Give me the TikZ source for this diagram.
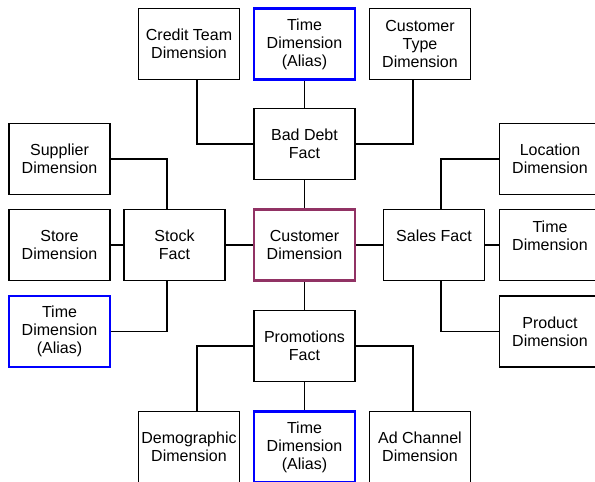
\documentclass[tikz,border=0pt]{standalone}
\usepackage{fontspec}
\setmainfont{Liberation Sans}
\usepackage{tikz}

\tikzset{
  tabla/.style={draw, line width=1.3pt, minimum width=101pt, minimum height=71pt,
    inner sep=0pt, align=center, font=\fontsize{16}{18}\selectfont},
  alias/.style={tabla, draw=blue, line width=2.6pt},
  centro/.style={tabla, draw=granate, line width=2.6pt},
  enlace/.style={line width=1.3pt}
}
\definecolor{granate}{RGB}{145,50,100}

\begin{document}
\begin{tikzpicture}[x=1pt, y=-1pt]
\useasboundingbox (0,0) rectangle (595,482);
% Tablas de dimensiones y hechos
\node[tabla] (credito) at (189,44) {Credit Team\\Dimension};
\node[alias] (tiempoA) at (304.5,44) {Time\\Dimension\\(Alias)};
\node[tabla] (tipo) at (420,44) {Customer\\Type\\Dimension};
\node[tabla] (deuda) at (304.5,144) {Bad Debt\\Fact};
\node[tabla] (proveedor) at (59.5,159) {Supplier\\Dimension};
\node[tabla] (tienda) at (59.5,245) {Store\\Dimension};
\node[alias] (tiempoI) at (59.5,331.5) {Time\\Dimension\\(Alias)};
\node[tabla] (stock) at (174.5,245) {Stock\\Fact};
\node[centro] (cliente) at (304.5,245) {Customer\\Dimension};
\node[tabla] (ventas) at (434,245) {Sales Fact\\\mbox{}};
\node[tabla] (lugar) at (550,159) {Location\\Dimension};
\node[tabla] (tiempoD) at (550,245) {Time\\Dimension\\\mbox{}};
\node[tabla] (producto) at (550,331.5) {Product\\Dimension};
\node[tabla] (promo) at (304.5,346) {Promotions\\Fact};
\node[tabla] (demo) at (189,447) {Demographic\\Dimension};
\node[alias] (tiempoB) at (304.5,447) {Time\\Dimension\\(Alias)};
\node[tabla] (canal) at (420,447) {Ad Channel\\Dimension};
% Enlaces
\draw[enlace] ([xshift=8pt]credito.south) |- (deuda.west);
\draw[enlace] (tiempoA) -- (deuda);
\draw[enlace] ([xshift=-7pt]tipo.south) |- (deuda.east);
\draw[enlace] (deuda) -- (cliente);
\draw[enlace] (proveedor.east) -| ([xshift=-7.5pt]stock.north);
\draw[enlace] (tienda) -- (stock);
\draw[enlace] (tiempoI.east) -| ([xshift=-7.5pt]stock.south);
\draw[enlace] (stock) -- (cliente);
\draw[enlace] (cliente) -- (ventas);
\draw[enlace] (lugar.west) -| ([xshift=7pt]ventas.north);
\draw[enlace] (ventas) -- (tiempoD);
\draw[enlace] (producto.west) -| ([xshift=7pt]ventas.south);
\draw[enlace] (cliente) -- (promo);
\draw[enlace] ([xshift=8pt]demo.north) |- (promo.west);
\draw[enlace] (promo) -- (tiempoB);
\draw[enlace] ([xshift=-7pt]canal.north) |- (promo.east);
\end{tikzpicture}
\end{document}
